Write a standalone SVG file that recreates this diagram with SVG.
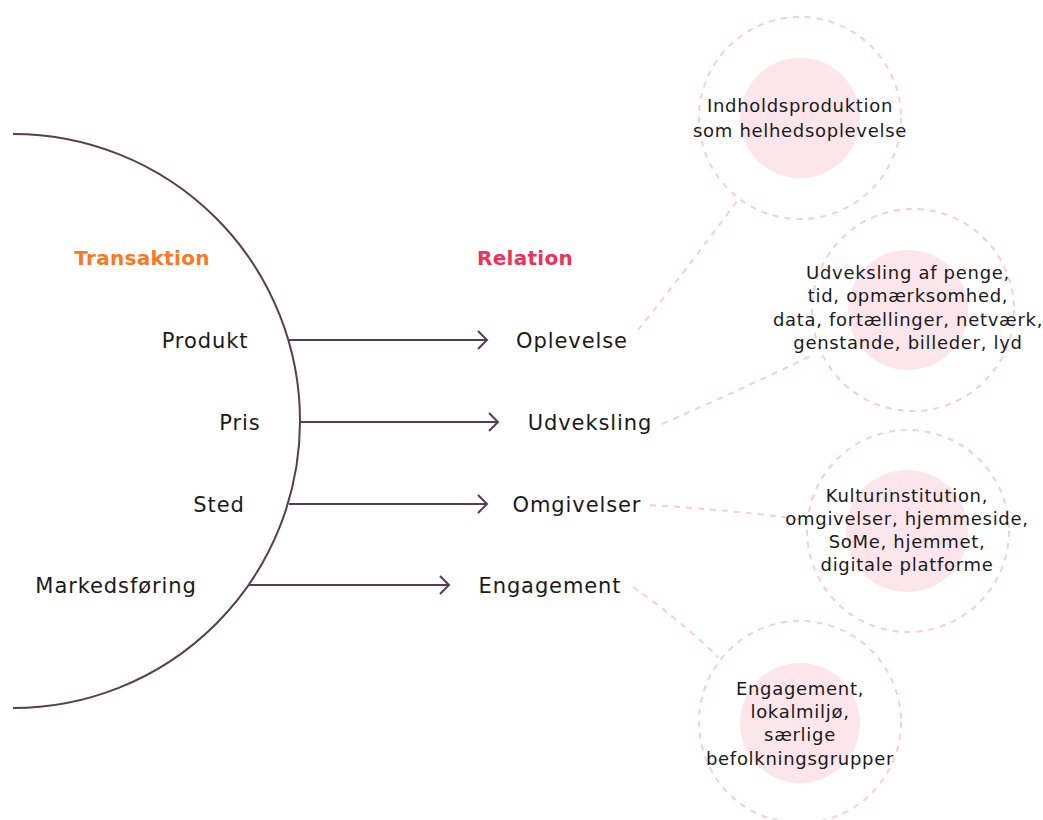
<svg xmlns="http://www.w3.org/2000/svg" width="1043" height="820" viewBox="0 0 1043 820">
<style>
.t{font-family:"DejaVu Sans","Noto Sans",sans-serif;fill:#1a1a1a;text-anchor:middle}
.lbl{font-size:21px;letter-spacing:0.9px}
.sm{font-size:18px;letter-spacing:0.7px}
.h{font-family:"DejaVu Sans","Noto Sans",sans-serif;font-weight:bold;font-size:20px;letter-spacing:0.3px;text-anchor:middle}
.ln{stroke:#5a3d4a;stroke-width:2;fill:none}
.dash{stroke:#f9ccd8;stroke-width:2;fill:none;stroke-dasharray:6 6}
.fill{fill:#fce6eb}
</style>
<rect width="1043" height="820" fill="#fff"/>
<g id="halfcircle">
<path class="ln" d="M13,134 A287,287 0 0 1 13,708"/>
</g>
<g id="connectors">
<path class="ln" d="M289,340 H487 M478,331 L487,340 L478,349"/>
<path class="ln" d="M300,422 H498 M489,413 L498,422 L489,431"/>
<path class="ln" d="M289,504 H487 M478,495 L487,504 L478,513"/>
<path class="ln" d="M249,585 H449 M440,576 L449,585 L440,594"/>
<path class="dash" d="M638,330 Q690,265 740,197"/>
<path class="dash" d="M662,424 Q740,390 813,355"/>
<path class="dash" d="M650,505 Q730,510 808,520"/>
<path class="dash" d="M633,587 Q680,620 718,657"/>
</g>
<g id="headings">
<text class="h" x="142" y="265" fill="#f47a26">Transaktion</text>
<text class="h" x="525" y="265" fill="#e8335a">Relation</text>
</g>
<g id="left-labels">
<text class="t lbl" x="205" y="348">Produkt</text>
<text class="t lbl" x="240" y="430">Pris</text>
<text class="t lbl" x="219" y="512">Sted</text>
<text class="t lbl" x="116" y="593">Markedsføring</text>
</g>
<g id="right-labels">
<text class="t lbl" x="572" y="348">Oplevelse</text>
<text class="t lbl" x="590" y="430">Udveksling</text>
<text class="t lbl" x="577" y="512">Omgivelser</text>
<text class="t lbl" x="550" y="593">Engagement</text>
</g>
<g id="circle1">
<circle class="dash" cx="800" cy="118" r="101"/>
<circle class="fill" cx="800" cy="118" r="60"/>
<text class="t sm" x="800" y="112">Indholdsproduktion</text>
<text class="t sm" x="800" y="137">som helhedsoplevelse</text>
</g>
<g id="circle2">
<circle class="dash" cx="913" cy="310" r="101"/>
<circle class="fill" cx="908" cy="310" r="60"/>
<text class="t sm" x="908" y="279">Udveksling af penge,</text>
<text class="t sm" x="908" y="302">tid, opmærksomhed,</text>
<text class="t sm" x="908" y="326">data, fortællinger, netværk,</text>
<text class="t sm" x="908" y="349">genstande, billeder, lyd</text>
</g>
<g id="circle3">
<circle class="dash" cx="908" cy="531" r="101"/>
<circle class="fill" cx="907" cy="531" r="61"/>
<text class="t sm" x="907" y="502">Kulturinstitution,</text>
<text class="t sm" x="907" y="525">omgivelser, hjemmeside,</text>
<text class="t sm" x="907" y="548">SoMe, hjemmet,</text>
<text class="t sm" x="907" y="571">digitale platforme</text>
</g>
<g id="circle4">
<circle class="dash" cx="800" cy="722" r="101"/>
<circle class="fill" cx="800" cy="723" r="60"/>
<text class="t sm" x="800" y="695">Engagement,</text>
<text class="t sm" x="800" y="718">lokalmiljø,</text>
<text class="t sm" x="800" y="741">særlige</text>
<text class="t sm" x="800" y="765">befolkningsgrupper</text>
</g>
</svg>
